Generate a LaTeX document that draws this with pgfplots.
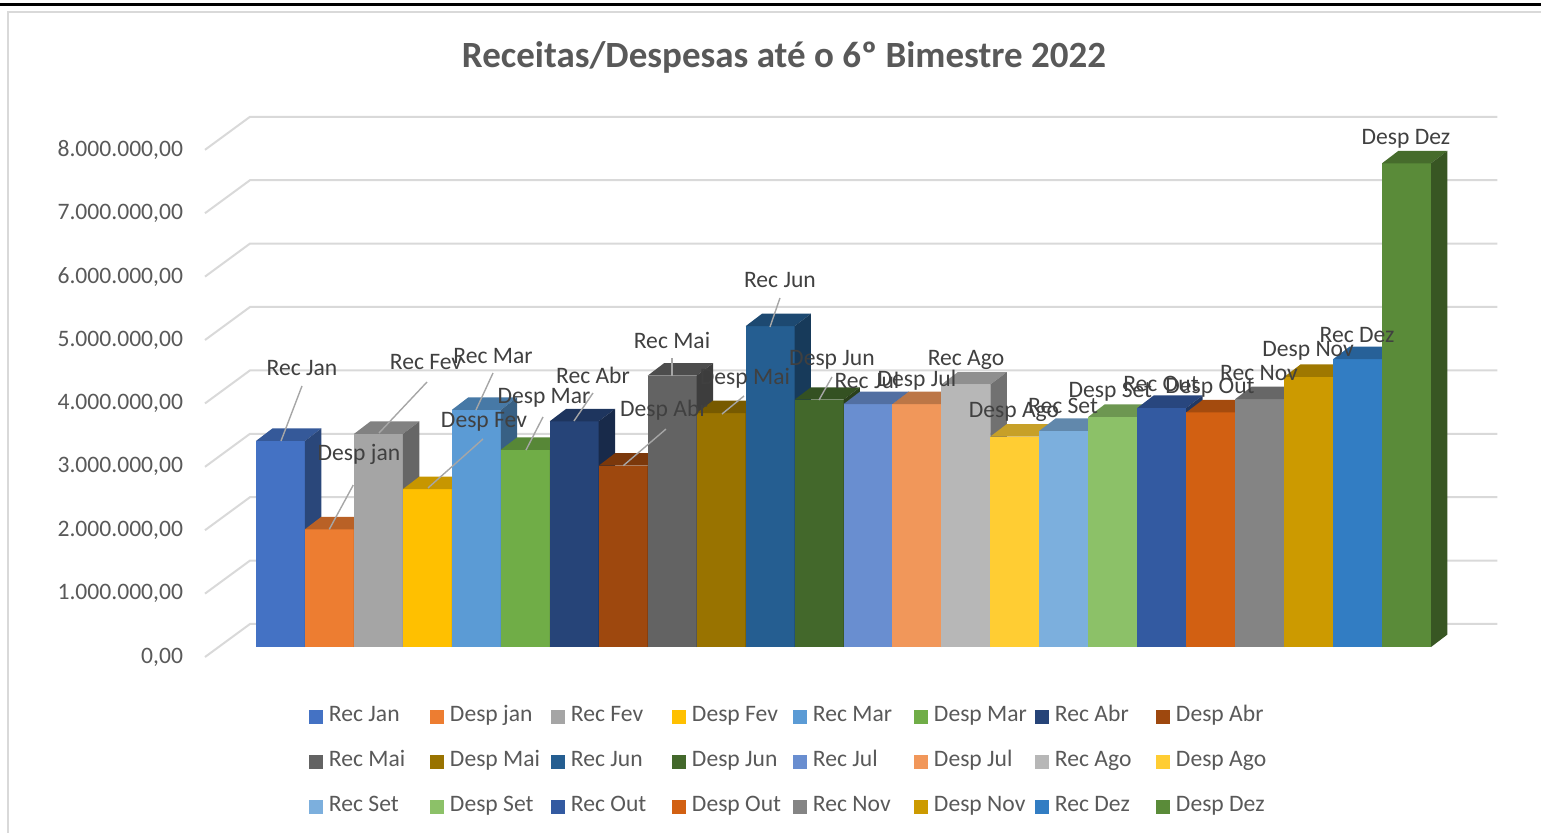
\documentclass[border=0pt]{standalone}
\usepackage{pgfplots}
\pgfplotsset{compat=1.18}
\usepackage{fontspec}
\setmainfont{Carlito}

\definecolor{c1}{HTML}{4472C4}
\definecolor{c2}{HTML}{ED7D31}
\definecolor{c3}{HTML}{A5A5A5}
\definecolor{c4}{HTML}{FFC000}
\definecolor{c5}{HTML}{5B9BD5}
\definecolor{c6}{HTML}{70AD47}
\definecolor{c7}{HTML}{264478}
\definecolor{c8}{HTML}{9E480E}
\definecolor{c9}{HTML}{636363}
\definecolor{c10}{HTML}{997300}
\definecolor{c11}{HTML}{255E91}
\definecolor{c12}{HTML}{43682B}
\definecolor{c13}{HTML}{698ED0}
\definecolor{c14}{HTML}{F1975A}
\definecolor{c15}{HTML}{B7B7B7}
\definecolor{c16}{HTML}{FFCD33}
\definecolor{c17}{HTML}{7CAFDD}
\definecolor{c18}{HTML}{8CC168}
\definecolor{c19}{HTML}{335AA1}
\definecolor{c20}{HTML}{D26012}
\definecolor{c21}{HTML}{848484}
\definecolor{c22}{HTML}{CC9A00}
\definecolor{c23}{HTML}{327DC3}
\definecolor{c24}{HTML}{5A8B39}
\definecolor{gridc}{HTML}{D9D9D9}
\definecolor{txt}{HTML}{595959}
\definecolor{lblc}{HTML}{404040}
\definecolor{leadc}{HTML}{A6A6A6}

\newcommand\bdx{0.335}
\newcommand\bdy{0.197}
% index, value (millions), colour, legend text
\newcommand\tdbar[4]{%
  \pgfmathsetmacro\xa{#1-0.5}%
  \pgfmathsetmacro\xb{#1+0.5}%
  \pgfmathsetmacro\xc{#1-0.5+\bdx}%
  \pgfmathsetmacro\xd{#1+0.5+\bdx}%
  \pgfmathsetmacro\yt{#2+\bdy}%
  \addplot[fill=#3, draw=none] coordinates {(\xa,0) (\xb,0) (\xb,#2) (\xa,#2)};
  \addlegendentry{\makebox[50.5pt][l]{#4}}
  \addplot[fill=#3!78!black, draw=none, forget plot] coordinates {(\xa,#2) (\xb,#2) (\xd,\yt) (\xc,\yt)};
  \addplot[fill=#3!62!black, draw=none, forget plot] coordinates {(\xb,0) (\xd,\bdy) (\xd,\yt) (\xb,#2)};
}

\begin{document}
\begin{tikzpicture}
\begin{axis}[
  x=24.48pt, y=31.7pt,
  xmin=-1.5417, xmax=24.857, ymin=-0.5, ymax=9,
  clip=false,
  axis line style={draw=none},
  xtick=\empty,
  ytick={0,1,2,3,4,5,6,7,8},
  yticklabels={{0,00},{1.000.000,00},{2.000.000,00},{3.000.000,00},{4.000.000,00},{5.000.000,00},{6.000.000,00},{7.000.000,00},{8.000.000,00}},
  major tick length=0pt,
  tick style={draw=none},
  yticklabel style={font=\fontsize{11.8}{14}\selectfont, text=txt, anchor=east, inner sep=0pt, xshift=-10.8pt, yshift=-5pt},
  legend columns=8,
  legend style={at={(axis cs:0.5825,-0.926)}, anchor=north west, draw=none, fill=none,
    inner sep=0pt, outer sep=0pt, column sep=0pt, row sep=11.5pt,
    font=\fontsize{11.8}{14}\selectfont, text=txt,
    nodes={inner sep=0pt, text height=8pt, text depth=3pt}},
  legend cell align=left,
  legend image code/.code={%
    \path[fill=none, draw=none] (0pt,-3.6pt) rectangle (10pt,3.6pt);
    \path[#1, draw=none] (0pt,-3.6pt) rectangle (7.2pt,3.6pt);},
]
% chart frame and top rule
\draw[gridc, line width=0.8pt] (axis cs:25.9,10.02) -- (axis cs:-5.565,10.02) -- (axis cs:-5.565,-3.1);
\draw[black, line width=1.5pt] (axis cs:-5.9,10.139) -- (axis cs:25.9,10.139);

% back wall and side gridlines
\addplot[gridc, line width=1pt, forget plot] coordinates {(-1.5417,-0.158) (-0.6225,0.363) (24.857,0.363)};
\addplot[gridc, line width=1pt, forget plot] coordinates {(-1.5417,0.842) (-0.6225,1.363) (24.857,1.363)};
\addplot[gridc, line width=1pt, forget plot] coordinates {(-1.5417,1.842) (-0.6225,2.363) (24.857,2.363)};
\addplot[gridc, line width=1pt, forget plot] coordinates {(-1.5417,2.842) (-0.6225,3.363) (24.857,3.363)};
\addplot[gridc, line width=1pt, forget plot] coordinates {(-1.5417,3.842) (-0.6225,4.363) (24.857,4.363)};
\addplot[gridc, line width=1pt, forget plot] coordinates {(-1.5417,4.842) (-0.6225,5.363) (24.857,5.363)};
\addplot[gridc, line width=1pt, forget plot] coordinates {(-1.5417,5.842) (-0.6225,6.363) (24.857,6.363)};
\addplot[gridc, line width=1pt, forget plot] coordinates {(-1.5417,6.842) (-0.6225,7.363) (24.857,7.363)};
\addplot[gridc, line width=1pt, forget plot] coordinates {(-1.5417,7.842) (-0.6225,8.363) (24.857,8.363)};

% bars (values in millions)
\tdbar{0}{3.25}{c1}{Rec Jan}
\tdbar{1}{1.857}{c2}{Desp jan}
\tdbar{2}{3.36}{c3}{Rec Fev}
\tdbar{3}{2.49}{c4}{Desp Fev}
\tdbar{4}{3.74}{c5}{Rec Mar}
\tdbar{5}{3.11}{c6}{Desp Mar}
\tdbar{6}{3.56}{c7}{Rec Abr}
\tdbar{7}{2.86}{c8}{Desp Abr}
\tdbar{8}{4.28}{c9}{Rec Mai}
\tdbar{9}{3.69}{c10}{Desp Mai}
\tdbar{10}{5.06}{c11}{Rec Jun}
\tdbar{11}{3.90}{c12}{Desp Jun}
\tdbar{12}{3.83}{c13}{Rec Jul}
\tdbar{13}{3.83}{c14}{Desp Jul}
\tdbar{14}{4.14}{c15}{Rec Ago}
\tdbar{15}{3.32}{c16}{Desp Ago}
\tdbar{16}{3.41}{c17}{Rec Set}
\tdbar{17}{3.63}{c18}{Desp Set}
\tdbar{18}{3.77}{c19}{Rec Out}
\tdbar{19}{3.70}{c20}{Desp Out}
\tdbar{20}{3.91}{c21}{Rec Nov}
\tdbar{21}{4.26}{c22}{Desp Nov}
\tdbar{22}{4.54}{c23}{Rec Dez}
\tdbar{23}{7.63}{c24}{Desp Dez}

% leader lines
\addplot[leadc, line width=0.7pt, forget plot] coordinates {(0.4395,4.117) (0.0106,3.249)};
\addplot[leadc, line width=0.7pt, forget plot] coordinates {(1.487,2.555) (0.997,1.856)};
\addplot[leadc, line width=0.7pt, forget plot] coordinates {(2.993,4.180) (2.012,3.375)};
\addplot[leadc, line width=0.7pt, forget plot] coordinates {(4.341,4.322) (3.993,3.738)};
\addplot[leadc, line width=0.7pt, forget plot] coordinates {(4.136,3.281) (3.013,2.508)};
\addplot[leadc, line width=0.7pt, forget plot] coordinates {(5.362,3.628) (5.015,3.107)};
\addplot[leadc, line width=0.7pt, forget plot] coordinates {(6.383,4.006) (5.995,3.565)};
\addplot[leadc, line width=0.7pt, forget plot] coordinates {(7.874,3.438) (7.002,2.860)};
\addplot[leadc, line width=0.7pt, forget plot] coordinates {(7.997,4.558) (7.997,4.274)};
\addplot[leadc, line width=0.7pt, forget plot] coordinates {(9.467,3.959) (9.018,3.675)};
\addplot[leadc, line width=0.7pt, forget plot] coordinates {(10.202,5.505) (9.998,5.047)};
\addplot[leadc, line width=0.7pt, forget plot] coordinates {(11.265,4.259) (10.999,3.896)};

% data labels
\begin{scope}[every node/.style={font=\fontsize{11.8}{14}\selectfont, text=lblc, inner sep=0pt}]
\node at (axis cs:0.440,4.401) {Rec Jan};
\node at (axis cs:1.604,3.044) {Desp jan};
\node at (axis cs:2.972,4.495) {Rec Fev};
\node at (axis cs:4.341,4.590) {Rec Mar};
\node at (axis cs:4.157,3.549) {Desp Fev};
\node at (axis cs:5.382,3.927) {Desp Mar};
\node at (axis cs:6.383,4.290) {Rec Abr};
\node at (axis cs:7.833,3.738) {Desp Abr};
\node at (axis cs:7.997,4.842) {Rec Mai};
\node at (axis cs:9.488,4.243) {Desp Mai};
\node at (axis cs:10.202,5.789) {Rec Jun};
\node at (axis cs:11.265,4.527) {Desp Jun};
\node at (axis cs:11.979,4.211) {Rec Jul};
\node at (axis cs:13.0,4.211) {Desp Jul};
\node at (axis cs:14.002,4.527) {Rec Ago};
\node at (axis cs:14.982,3.707) {Desp Ago};
\node at (axis cs:15.983,3.801) {Rec Set};
\node at (axis cs:16.950,4.030) {Desp Set};
\node at (axis cs:17.984,4.148) {Rec Out};
\node at (axis cs:18.985,4.085) {Desp Out};
\node at (axis cs:19.986,4.322) {Rec Nov};
\node at (axis cs:20.987,4.669) {Desp Nov};
\node at (axis cs:21.988,4.921) {Rec Dez};
\node at (axis cs:22.988,8.013) {Desp Dez};
\end{scope}

% title
\node[font=\fontsize{18.5}{22}\selectfont\bfseries, text=txt, inner sep=0pt] at (axis cs:10.284,9.300) {Receitas/Despesas até o 6º Bimestre 2022};

\coordinate (BL) at (axis cs:-5.7287,-2.918);
\coordinate (TR) at (axis cs:25.746,10.205);
\end{axis}
\pgfresetboundingbox
\path[use as bounding box] (BL) rectangle (TR);
\end{tikzpicture}
\end{document}
